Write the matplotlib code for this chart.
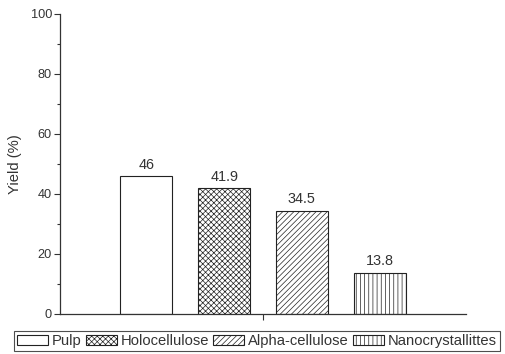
import matplotlib.pyplot as plt
import matplotlib.ticker as ticker

# Rendements des différentes fractions
categories = ["Pulp", "Holocellulose", "Alpha-cellulose", "Nanocrystallittes"]
yields = [46, 41.9, 34.5, 13.8]
labels = ["46", "41.9", "34.5", "13.8"]
hatches = ["", "xxxxxx", "//////", "||||"]

plt.rcParams["font.family"] = ["Liberation Sans", "DejaVu Sans"]
plt.rcParams["hatch.linewidth"] = 0.5
text_color = "#333333"

fig = plt.figure(figsize=(5.06, 3.54), dpi=100)
ax = fig.add_axes([60 / 506, 1 - 314 / 354, 406 / 506, 300 / 354])

positions = [1, 2, 3, 4]
bars = []
for x, y, h, lab, name in zip(positions, yields, hatches, labels, categories):
    b = ax.bar(x, y, width=0.67, color="white", edgecolor="#222222",
               hatch=h, linewidth=0.8, label=name)
    bars.append(b)
    ax.annotate(lab, (x, y), xytext=(0, 3), textcoords="offset points",
                ha="center", va="bottom", fontsize=10.4, color=text_color)

ax.set_xlim(-0.113, 5.113)
ax.set_ylim(0, 100)
ax.set_xticks([2.5])
ax.set_xticklabels([""])
ax.yaxis.set_major_locator(ticker.MultipleLocator(20))
ax.yaxis.set_minor_locator(ticker.MultipleLocator(10))
ax.tick_params(axis="both", which="major", length=4.3, width=0.8, colors="#333333",
               labelsize=9.2, labelcolor=text_color, pad=1.5)
ax.tick_params(axis="y", which="minor", length=2.5, width=0.8, colors="#333333")
ax.set_ylabel("Yield (%)", fontsize=10.6, color=text_color, labelpad=6)

ax.spines["top"].set_visible(False)
ax.spines["right"].set_visible(False)
for s in ["left", "bottom"]:
    ax.spines[s].set_color("#333333")
    ax.spines[s].set_linewidth(0.9)

leg = fig.legend(handles=bars, labels=categories, loc="lower left",
                 bbox_to_anchor=(14 / 506, 3 / 354), ncol=4, fontsize=10.6,
                 frameon=True, fancybox=False, edgecolor="#222222",
                 handlelength=2.1, handleheight=0.75, handletextpad=0.25,
                 columnspacing=0.3, borderpad=0.2, borderaxespad=0)
leg.get_frame().set_linewidth(0.8)
for t in leg.get_texts():
    t.set_color(text_color)

fig.savefig("out.png", dpi=100)
